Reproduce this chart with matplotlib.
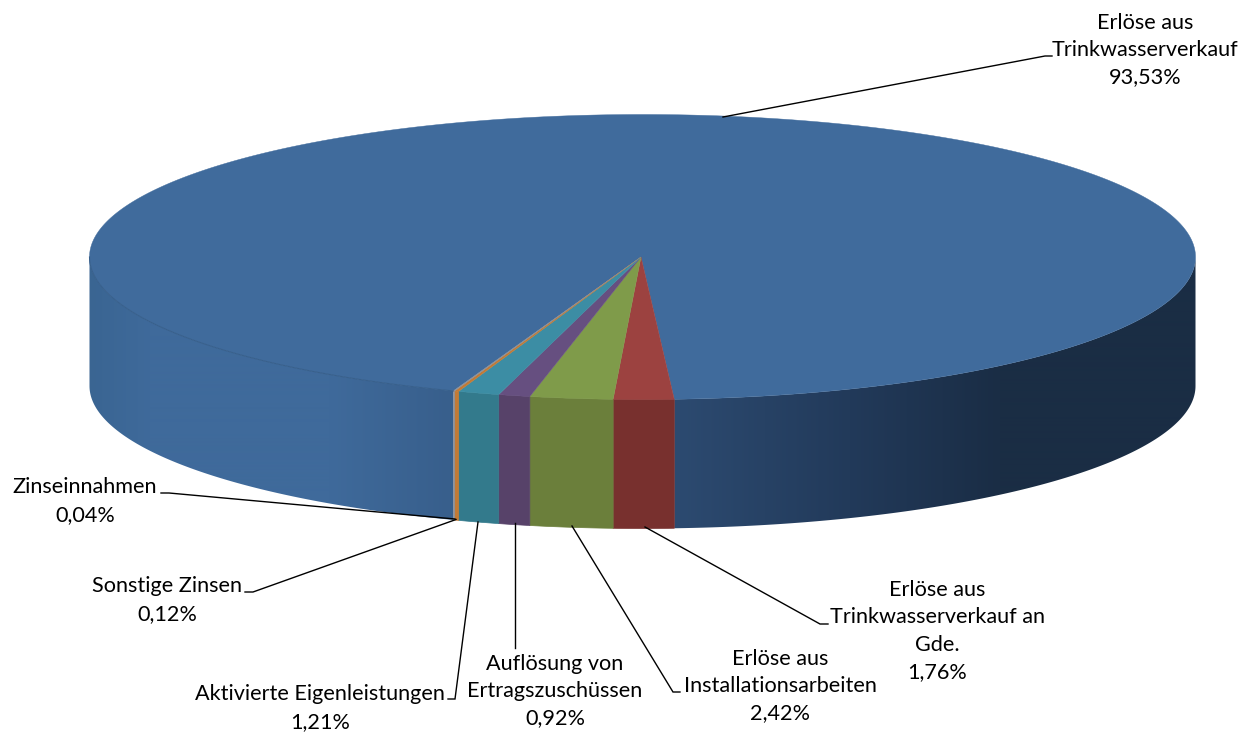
import numpy as np
import matplotlib
matplotlib.use("Agg")
import matplotlib.pyplot as plt
from matplotlib.patches import Polygon
from matplotlib.colors import to_rgb

# Data
categories = ["Erlöse aus\nTrinkwasserverkauf", "Erlöse aus\nTrinkwasserverkauf an\nGde.",
              "Erlöse aus\nInstallationsarbeiten", "Auflösung von\nErtragszuschüssen",
              "Aktivierte Eigenleistungen", "Sonstige Zinsen", "Zinseinnahmen"]
shares = [93.53, 1.76, 2.42, 0.92, 1.21, 0.12, 0.04]
pct_labels = ["93,53%", "1,76%", "2,42%", "0,92%", "1,21%", "0,12%", "0,04%"]
top_colors = ["#406b9c", "#9c4240", "#7f9b4a", "#664f80", "#3c8da4", "#c27a35", "#8b9099"]
side_colors = [None, "#78302e", "#6b7f3b", "#574269", "#337a8c", "#c27a35", "#8b9099"]

label_pos = [(1145, 50), (937, 631), (780, 686), (555, 691), (320, 708), (167, 600), (85, 501)]
leaders = [[(723, 117), (1045, 56), (1052, 56)],
           [(645, 527), (820, 624), (828, 624)],
           [(572, 526), (673, 692), (680, 692)],
           [(514.5, 523), (514.5, 648)],
           [(478, 522), (455, 699), (448, 699)],
           [(456, 519.5), (253, 592), (245, 592)],
           [(455, 519), (169, 493), (161, 493)]]

# Pie geometry (pixels of the figure)
CX, CY, RX, RY, DEPTH = 642.5, 257.0, 553.0, 142.5, 129.0
APEX = (641.0, 257.0)
START = 200.0  # clockwise from top

# Side shading of the main slice by horizontal position
shade_x = [89, 150, 330, 450, 680, 850, 1000, 1196]
shade_c = ["#3a6592", "#3f6a9b", "#3f6a9b", "#385f8c", "#2c4a70", "#223a5a", "#1a2d45", "#1a2d44"]
shade_rgb = np.array([to_rgb(c) for c in shade_c])

plt.rcParams["font.family"] = ["Lato", "DejaVu Sans"]
fig = plt.figure(figsize=(12.52, 7.35), dpi=100)
ax = fig.add_axes([0, 0, 1, 1])
ax.set_xlim(0, 1252)
ax.set_ylim(735, 0)
ax.axis("off")


def pt(theta):
    t = np.radians(theta)
    return CX + RX * np.sin(t), CY - RY * np.cos(t)


def side_poly(a, b):
    th = np.linspace(a, b, max(2, int((b - a) * 2) + 1))
    x, y = pt(th)
    return np.r_[np.c_[x, y], np.c_[x[::-1], y[::-1] + DEPTH]]


edges = START + np.cumsum([0] + [s * 3.6 for s in shares])
xs_grad = np.linspace(89, 1196, 1107)
grad = np.stack([np.interp(xs_grad, shade_x, shade_rgb[:, k]) for k in range(3)], axis=1)[None, :, :]

for i, (a, b) in enumerate(zip(edges[:-1], edges[1:])):
    if side_colors[i] is None:
        # visible arcs of the big slice: from its start to 270 deg and from 90 deg to its end
        for aa, bb in [(a, 270.0), (450.0, b)]:
            clip = Polygon(side_poly(aa, bb), closed=True, transform=ax.transData,
                           fc="none", ec="none")
            ax.add_patch(clip)
            im = ax.imshow(grad, extent=(89, 1196, 540, 100), aspect="auto",
                           interpolation="bilinear", zorder=2)
            im.set_clip_path(clip)
for i, (a, b) in enumerate(zip(edges[:-1], edges[1:])):
    if side_colors[i] is not None:
        ax.add_patch(Polygon(side_poly(a, b), closed=True, fc=side_colors[i],
                             ec=side_colors[i], lw=0.5, zorder=2.5))
ax.set_xlim(0, 1252)
ax.set_ylim(735, 0)

for i, (a, b) in enumerate(zip(edges[:-1], edges[1:])):
    th = np.linspace(a, b, max(2, int((b - a) * 2)))
    x, y = pt(th)
    verts = [APEX] + list(zip(x, y))
    ax.add_patch(Polygon(verts, closed=True, fc=top_colors[i], ec=top_colors[i], lw=0.3, zorder=3))

# thin rim on the front-left part of the top face
th = np.linspace(270, START, 200)
x, y = pt(th)
ax.plot(x, y, color="#38608c", lw=0.8, zorder=4)

for pts in leaders:
    xs, ys = zip(*pts)
    ax.plot(xs, ys, color="black", lw=1.0, zorder=5, solid_joinstyle="miter")

for (x, y), cat, pct in zip(label_pos, categories, pct_labels):
    ax.text(x, y, f"{cat}\n{pct}", ha="center", va="center", fontsize=15.6,
            linespacing=1.46, color="black", zorder=6)

fig.savefig("out.png", dpi=100)
